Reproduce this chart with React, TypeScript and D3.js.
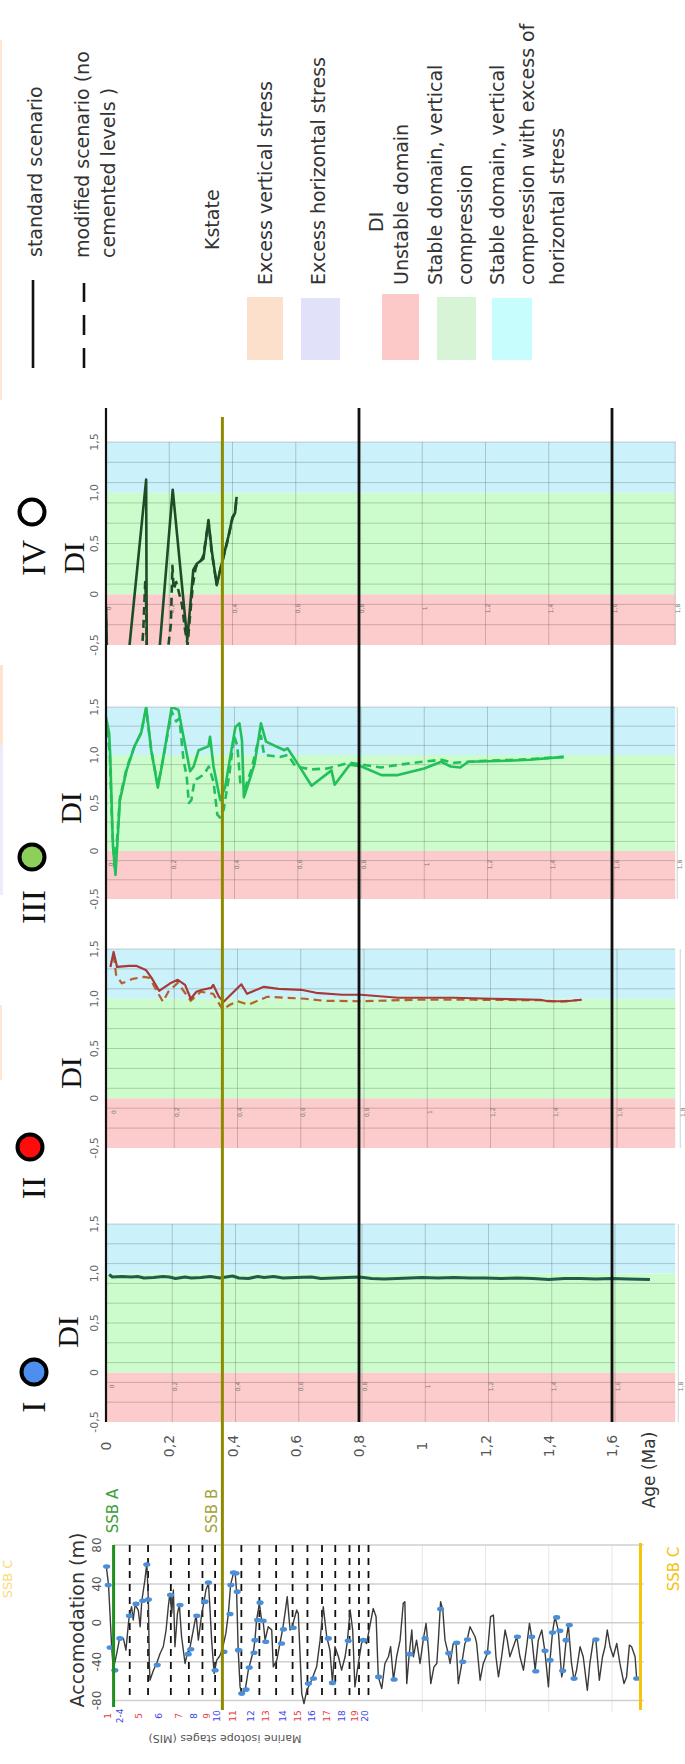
import React from 'react';
import * as d3 from 'd3';

// ---------- DATA ----------
const AGE_TICKS = [0, 0.2, 0.4, 0.6, 0.8, 1, 1.2, 1.4, 1.6];
const PANEL_GRID_AGES = [0.2, 0.4, 0.6, 0.8, 1, 1.2, 1.4, 1.6, 1.8];
const PANEL_TICK_AGES = [0, 0.2, 0.4, 0.6, 0.8, 1, 1.2, 1.4, 1.6, 1.8];
const MAJOR_AGES = [0, 0.8, 1.6];
const DI_TICKS = [-0.5, 0, 0.5, 1, 1.5];
const DI_TICK_LABELS = ['-0,5', '0', '0,5', '1,0', '1,5'];
const DI_GRID = [-0.3, -0.1, 0.1, 0.3, 0.5, 0.7, 0.9, 1.1, 1.3];
const DI_BANDS = [
  { lo: -0.5, hi: 0, color: '#fccbcb' },
  { lo: 0, hi: 1, color: '#ccfccc' },
  { lo: 1, hi: 1.5, color: '#cbf1fb' },
];

const SSB_A = 0.024;
const SSB_B = 0.368;
const SSB_C = 1.69;

// Panel IV
const P4_STD = [
  [0, -0.12], [0.004, -0.7], [0.068, -0.7], [0.127, 1.13], [0.129, -0.7], [0.165, -0.7],
  [0.211, 1.03], [0.257, -0.45], [0.276, 0.24], [0.287, 0.3], [0.308, 0.35], [0.324, 0.73],
  [0.334, 0.44], [0.35, 0.09], [0.366, 0.3], [0.387, 0.57], [0.4, 0.76], [0.408, 0.8], [0.413, 0.96],
];
const P4_MOD = [
  [0, -0.25], [0.003, -0.7], [0.11, -0.7], [0.118, -0.35], [0.124, 0.12], [0.127, -0.1], [0.13, -0.7],
  [0.19, -0.7], [0.205, -0.3], [0.21, 0.28], [0.214, 0.05], [0.222, 0.12], [0.232, 0.0], [0.24, -0.1],
  [0.25, -0.35], [0.258, -0.5], [0.266, -0.2], [0.275, 0.1], [0.283, 0.25], [0.29, 0.32], [0.3, 0.33],
  [0.308, 0.38], [0.324, 0.72], [0.334, 0.42], [0.35, 0.1], [0.366, 0.3], [0.387, 0.56], [0.4, 0.75],
  [0.408, 0.8], [0.413, 0.95],
];
// Panel III
const P3_STD = [
  [0, 1.25], [0.002, 1.36], [0.01, 1.23], [0.013, 1.02], [0.022, 0.05], [0.03, -0.25], [0.044, 0.53],
  [0.065, 0.84], [0.09, 1.09], [0.111, 1.23], [0.127, 1.5], [0.143, 1.05], [0.164, 0.66], [0.18, 0.95],
  [0.208, 1.5], [0.229, 1.47], [0.245, 1.19], [0.266, 0.83], [0.277, 0.88], [0.293, 1.05], [0.324, 1.09],
  [0.329, 1.19], [0.34, 0.88], [0.361, 0.53], [0.377, 0.67], [0.393, 0.98], [0.409, 1.29], [0.422, 1.33],
  [0.43, 1.15], [0.436, 0.56], [0.45, 0.7], [0.47, 0.91], [0.48, 1.12], [0.49, 1.33], [0.506, 1.14],
  [0.564, 1.05], [0.574, 1.07], [0.606, 0.91], [0.65, 0.68], [0.713, 0.84], [0.723, 0.69], [0.771, 0.9],
  [0.808, 0.88], [0.871, 0.79], [0.92, 0.79], [1.006, 0.86], [1.06, 0.93], [1.09, 0.88], [1.12, 0.87],
  [1.146, 0.93], [1.27, 0.94], [1.34, 0.95], [1.447, 0.98],
];
const P3_MOD = [
  [0, 1.4], [0.005, 1.25], [0.012, 1.0], [0.02, 0.2], [0.028, -0.2], [0.044, 0.55], [0.065, 0.86],
  [0.09, 1.09], [0.111, 1.23], [0.127, 1.48], [0.143, 1.05], [0.164, 0.68], [0.18, 0.95], [0.208, 1.45],
  [0.222, 1.35], [0.232, 1.38], [0.245, 0.95], [0.255, 0.78], [0.262, 0.5], [0.27, 0.53], [0.28, 0.74],
  [0.293, 0.76], [0.31, 0.8], [0.325, 0.88], [0.34, 0.72], [0.352, 0.38], [0.36, 0.35], [0.372, 0.43],
  [0.39, 0.8], [0.405, 1.2], [0.415, 1.1], [0.425, 0.7], [0.44, 0.66], [0.46, 0.85], [0.478, 1.1],
  [0.49, 1.2], [0.5, 1.0], [0.55, 0.98], [0.575, 1.0], [0.6, 0.88], [0.65, 0.85], [0.7, 0.86],
  [0.77, 0.92], [0.81, 0.9], [0.87, 0.87], [0.93, 0.9], [1.0, 0.93], [1.06, 0.95], [1.1, 0.92],
  [1.2, 0.94], [1.3, 0.95], [1.447, 0.98],
];
// Panel II
const P2_STD = [
  [0.014, 1.32], [0.024, 1.47], [0.035, 1.32], [0.073, 1.33], [0.097, 1.33], [0.126, 1.29], [0.144, 1.21],
  [0.168, 1.08], [0.203, 1.155], [0.227, 1.19], [0.25, 1.14], [0.268, 1.0], [0.286, 1.07], [0.304, 1.09],
  [0.333, 1.11], [0.339, 1.14], [0.357, 1.02], [0.372, 0.97], [0.404, 1.07], [0.428, 1.145], [0.446, 1.05],
  [0.499, 1.12], [0.546, 1.1], [0.617, 1.09], [0.664, 1.06], [0.747, 1.04], [0.806, 1.04], [0.924, 1.01],
  [1.1, 1.01], [1.22, 1.0], [1.374, 0.99], [1.397, 0.975], [1.456, 0.975], [1.504, 0.99],
];
const P2_MOD = [
  [0.024, 1.44], [0.032, 1.24], [0.05, 1.155], [0.085, 1.2], [0.12, 1.22], [0.138, 1.21], [0.162, 1.07],
  [0.18, 0.97], [0.197, 1.07], [0.227, 1.16], [0.268, 0.98], [0.3, 1.07], [0.339, 1.05], [0.369, 0.89],
  [0.392, 0.94], [0.416, 0.975], [0.45, 0.94], [0.51, 1.02], [0.63, 1.0], [0.688, 0.98], [0.806, 0.975],
  [0.983, 0.99], [1.16, 0.99], [1.374, 0.985], [1.433, 0.97], [1.504, 0.99],
];
// Panel I
const P1_STD = [
  [0.01, 0.99], [0.02, 0.965], [0.05, 0.97], [0.08, 0.965], [0.1, 0.97], [0.12, 0.955], [0.15, 0.96],
  [0.18, 0.97], [0.2, 0.965], [0.22, 0.95], [0.25, 0.965], [0.27, 0.955], [0.3, 0.96], [0.33, 0.97],
  [0.36, 0.955], [0.4, 0.975], [0.42, 0.955], [0.45, 0.95], [0.48, 0.97], [0.5, 0.96], [0.53, 0.97],
  [0.56, 0.955], [0.6, 0.96], [0.65, 0.965], [0.68, 0.95], [0.72, 0.955], [0.76, 0.96], [0.8, 0.965],
  [0.84, 0.95], [0.88, 0.945], [0.92, 0.95], [0.96, 0.955], [1.0, 0.96], [1.05, 0.955], [1.1, 0.96],
  [1.15, 0.955], [1.2, 0.955], [1.25, 0.95], [1.3, 0.955], [1.35, 0.95], [1.4, 0.94], [1.45, 0.95],
  [1.5, 0.95], [1.55, 0.945], [1.6, 0.95], [1.65, 0.945], [1.72, 0.94],
];

// Accommodation (m) vs age (Ma)
const ACC_TICKS = [80, 40, 0, -40, -80];
const ACCOM = [
  [0.001, 58], [0.008, 39], [0.018, -25], [0.023, -48], [0.034, -31.6], [0.042, -17.9], [0.055, -16.1],
  [0.063, -28.2], [0.071, -0.7], [0.074, 7.9], [0.081, 16.5], [0.086, 2.8], [0.092, 18.3], [0.102, 13.1],
  [0.108, -4.1], [0.113, 21.7], [0.123, 44], [0.129, 61.3], [0.134, 23.4], [0.137, -41.9], [0.139, -59.1],
  [0.15, -48.8], [0.16, -41.9], [0.171, -31.6], [0.181, -24.7], [0.19, -7.5], [0.197, 16.5], [0.202, 30.3],
  [0.208, 9.7], [0.213, 33.7], [0.218, -24.7], [0.226, 9.7], [0.232, 18.3], [0.239, -14.4], [0.25, -41.9],
  [0.257, -31.6], [0.266, -24.7], [0.276, -7.5], [0.285, 7.9], [0.292, -17.9], [0.303, 9.7], [0.31, 21.7],
  [0.316, 33.7], [0.324, 40.6], [0.329, 13.1], [0.334, -17.9], [0.342, -52.3], [0.35, -38.5], [0.358, -35],
  [0.366, -29.9], [0.379, -11], [0.387, 9.7], [0.394, 38.9], [0.403, 51], [0.408, 52.7], [0.413, 32],
  [0.418, -28.2], [0.424, -66], [0.429, -72.9], [0.44, -69.5], [0.45, -48.8], [0.461, -35], [0.466, -29.9],
  [0.471, -17.9], [0.476, 2.8], [0.485, 20], [0.492, 2.8], [0.497, 1.1], [0.503, -17.9], [0.513, -4.1],
  [0.524, -7.5], [0.529, -45.4], [0.54, -38.5], [0.55, -21.3], [0.559, -5.8], [0.566, 9.7], [0.573, 26.9],
  [0.582, -7.5], [0.587, -5.8], [0.603, 13.1], [0.608, 9.7], [0.619, -72.9], [0.626, -83.2], [0.635, -69.5],
  [0.65, -59.1], [0.666, -45.4], [0.677, -17.9], [0.687, 16.5], [0.698, -14.4], [0.708, -28.2], [0.716, -60.9],
  [0.724, -24.7], [0.735, -35], [0.745, -48.8], [0.756, -35], [0.763, -19.6], [0.772, 13.1], [0.78, -7.5],
  [0.787, -66], [0.798, -41.9], [0.808, -21.3], [0.814, -17.9], [0.824, -21.3], [0.845, 14.8], [0.854, 6.2],
  [0.861, -55.7], [0.872, -67.7], [0.882, -41.9], [0.893, -35], [0.9, -24.7], [0.909, -59.1], [0.919, -35],
  [0.93, -17.9], [0.94, 20], [0.945, 21.7], [0.951, -62.6], [0.959, -31.6], [0.967, -7.5], [0.972, -35],
  [0.982, -17.9], [0.993, -41.9], [1.003, -17.9], [1.012, -0.7], [1.019, -24.7], [1.027, -62.6], [1.037, -45.4],
  [1.046, -41.9], [1.051, -17.9], [1.058, 21.7], [1.065, 13.1], [1.072, -17.9], [1.082, -31.6], [1.088, -41.9],
  [1.098, -21.3], [1.107, -21.3], [1.114, -62.6], [1.125, -41.9], [1.135, -21.3], [1.143, -16.1], [1.151, -4.1],
  [1.167, -14.4], [1.172, -21.3], [1.183, -59.1], [1.193, -41.9], [1.206, -31.6], [1.216, 6.2], [1.225, 7.9],
  [1.233, -35], [1.241, -55.7], [1.251, -35], [1.262, -7.5], [1.269, -17.9], [1.277, -35], [1.288, -24.7],
  [1.299, -14.4], [1.309, -35], [1.32, -48.8], [1.33, -24.7], [1.339, -0.7], [1.346, -14.4], [1.357, -48.8],
  [1.367, -17.9], [1.378, -7.5], [1.388, -29.9], [1.399, -66], [1.404, -38.5], [1.412, -9.3], [1.42, 6.2],
  [1.43, -7.5], [1.441, -55.7], [1.446, -48.8], [1.455, -17.9], [1.462, -2.4], [1.472, -41.9], [1.48, -59.1],
  [1.488, -48.8], [1.499, -24.7], [1.509, -35], [1.522, -69.5], [1.53, -41.9], [1.541, -17.9], [1.549, -17.9],
  [1.56, -59.1], [1.57, -35], [1.578, -24.7], [1.585, -7.5], [1.594, -24.7], [1.604, -35], [1.615, -21.3],
  [1.625, -41.9], [1.638, -62.6], [1.646, -55.7], [1.655, -23], [1.662, -24.7], [1.673, -35], [1.678, -57.4],
];
const ACCOM_MARKERS = [
  [0.002, 57.8], [0.007, 38.9], [0.013, -25.4], [0.028, -48.8], [0.044, -16.1], [0.074, 7.2], [0.095, 19.4],
  [0.116, 22.7], [0.129, 60], [0.134, 24], [0.162, -43.6], [0.204, 28.6], [0.234, 18.3], [0.26, -32.3],
  [0.268, -27.2], [0.287, 7.2], [0.313, 21.7], [0.324, 41.3], [0.345, -48.8], [0.373, -29.9], [0.392, 9],
  [0.395, 38.9], [0.403, 51.6], [0.411, 51], [0.415, 32], [0.419, -28.2], [0.429, -72.9], [0.443, -68.8],
  [0.453, -46.1], [0.468, -30.9], [0.471, -17.9], [0.479, 2.8], [0.487, 20.7], [0.497, 2.1], [0.505, -19.6],
  [0.555, -21.3], [0.561, -6.8], [0.592, -5.1], [0.64, -62.6], [0.656, -57.4], [0.703, -16.1], [0.716, -61.9],
  [0.766, -18.6], [0.814, -17.9], [0.862, -55.7], [0.911, -58.4], [0.961, -32.3], [1.009, -16.1], [1.058, 14.1],
  [1.084, -31.3], [1.109, -20.6], [1.128, -40.2], [1.143, -17.2], [1.206, -30.6], [1.301, -14.4], [1.346, -14.4],
  [1.359, -49.9], [1.388, -28.9], [1.404, -38.5], [1.412, -10], [1.425, 5.5], [1.435, -8.2], [1.444, -49.5],
  [1.455, -17.9], [1.465, -2.4], [1.48, -57.4], [1.549, -17.2], [1.678, -57.4],
];

// Marine isotope stages
const MIS_BOUNDARIES = [0.075, 0.133, 0.205, 0.262, 0.305, 0.345, 0.428, 0.485, 0.538, 0.59, 0.637, 0.683, 0.725, 0.77, 0.8, 0.83];
const MIS_LABELS = ['1', '2-4', '5', '6', '7', '8', '9', '10', '11', '12', '13', '14', '15', '16', '17', '18', '19', '20'];
const MIS_LABEL_AGES = [0.006, 0.044, 0.104, 0.168, 0.231, 0.278, 0.319, 0.351, 0.402, 0.458, 0.506, 0.56, 0.607, 0.651, 0.699, 0.746, 0.787, 0.819];

// Legend
const LEGEND_KSTATE = ['Excess vertical stress', 'Excess horizontal stress'];
const LEGEND_DI = [['Unstable domain'], ['Stable domain, vertical', 'compression'], ['Stable domain, vertical', 'compression with excess of', 'horizontal stress']];

// ---------- LAYOUT ----------
const PANELS = [
  { numeral: 'IV', fill: '#ffffff', top: 442, bottom: 645, std: P4_STD, mod: P4_MOD, stdColor: '#1d4d26', modColor: '#1d4d26', width: 2.6, gridShift: 0, circleY: 512, numY: 558, diY: 558, circleX: 32, diX: 73 },
  { numeral: 'III', fill: '#8ccf5a', top: 707, bottom: 899, std: P3_STD, mod: P3_MOD, stdColor: '#22c05a', modColor: '#22c05a', width: 2.6, gridShift: 2, circleY: 857, numY: 907, diY: 808, circleX: 32, diX: 70 },
  { numeral: 'II', fill: '#ff0c0c', top: 949, bottom: 1148, std: P2_STD, mod: P2_MOD, stdColor: '#a63a36', modColor: '#b5612c', width: 2.2, gridShift: 5, circleY: 1147, numY: 1188, diY: 1073, circleX: 30, diX: 70 },
  { numeral: 'I', fill: '#4d8fef', top: 1224, bottom: 1422, std: P1_STD, mod: null, stdColor: '#1f5c4c', modColor: '#1f5c4c', width: 3, gridShift: 3, circleY: 1372, numY: 1407, diY: 1332, circleX: 34, diX: 67 },
];

const fmt = (v: number) => String(v).replace('.', ',');

function rot(x: number, y: number, deg = -90) {
  return `translate(${x},${y}) rotate(${deg})`;
}

function Panel({ p, x, idx }: any) {
  const y = d3.scaleLinear().domain([-0.5, 1.5]).range([p.bottom, p.top]);
  const line = d3.line<number[]>().x((d) => x(d[0])).y((d) => y(d[1]));
  const x0 = x(0);
  const x1 = x(1.8);
  const clipId = `clip-panel-${idx}`;
  return (
    <g>
      <defs>
        <clipPath id={clipId}>
          <rect x={x0} y={y(1.5)} width={x1 - x0} height={y(-0.5) - y(1.5)} />
        </clipPath>
      </defs>
      {DI_BANDS.map((b, i) => (
        <rect key={i} x={x0} y={y(b.hi)} width={x1 - x0} height={y(b.lo) - y(b.hi)} fill={b.color} />
      ))}
      {DI_GRID.map((v, i) => (
        <line key={'h' + i} x1={x0} x2={x1} y1={y(v)} y2={y(v)} stroke="#000" strokeOpacity={0.18} strokeWidth={1} />
      ))}
      <line x1={x0} x2={x1} y1={y(1.5)} y2={y(1.5)} stroke="#000" strokeOpacity={0.12} strokeWidth={1.5} />
      {PANEL_GRID_AGES.map((a, i) => (
        <line key={'v' + i} x1={x(a) + p.gridShift} x2={x(a) + p.gridShift} y1={y(1.5)} y2={y(-0.5)} stroke="#000" strokeOpacity={0.18} strokeWidth={1} />
      ))}
      {PANEL_TICK_AGES.map((a, i) => (
        <text key={'t' + i} transform={rot(x(a) + p.gridShift + 2, y(-0.14))} textAnchor="middle" dominantBaseline="central" fontSize={6} fill="#777">
          {fmt(a)}
        </text>
      ))}
      <g clipPath={`url(#${clipId})`}>
        {p.mod && (
          <path d={line(p.mod) || ''} fill="none" stroke={p.modColor} strokeWidth={p.width} strokeDasharray="8 5" strokeLinejoin="round" />
        )}
        <path d={line(p.std) || ''} fill="none" stroke={p.stdColor} strokeWidth={p.width} strokeLinejoin="round" />
      </g>
      {DI_TICKS.map((v, i) => (
        <text key={'d' + i} transform={rot(94, y(v))} textAnchor="middle" dominantBaseline="central" fontSize={11} fill="#666">
          {DI_TICK_LABELS[i]}
        </text>
      ))}
      <text transform={rot(p.diX, p.diY)} textAnchor="middle" dominantBaseline="central" fontSize={30} fontFamily="Liberation Serif" fill="#111">
        DI
      </text>
      <text transform={rot(33, p.numY)} textAnchor="middle" dominantBaseline="central" fontSize={34} fontFamily="Liberation Serif" fill="#111">
        {p.numeral}
      </text>
      <circle cx={p.circleX} cy={p.circleY} r={12.5} fill={p.fill} stroke="#000" strokeWidth={4} />
    </g>
  );
}

export default function App() {
  React.useEffect(() => {
    document.body.style.margin = '0';
  }, []);

  const x = d3.scaleLinear().domain([0, 1.6]).range([106, 612]);
  const yAcc = d3.scaleLinear().domain([-80, 80]).range([1700.5, 1545]);
  const accLine = d3.line<number[]>().x((d) => x(d[0])).y((d) => yAcc(d[1]));

  const legendBottom = 285;
  const lf = 19;

  return (
    <svg width={685} height={1764} style={{ position: 'absolute', left: 0, top: 0, background: '#fff', display: 'block' }} fontFamily="DejaVu Sans">
      <rect width={685} height={1764} fill="#fff" />
      {/* faint cropped strips at the left edge */}
      <rect x={0} y={40} width={2} height={360} fill="#fde8d8" />
      <rect x={0} y={665} width={3} height={80} fill="#fde3d0" />
      <rect x={0} y={745} width={3} height={150} fill="#ececfb" />
      <rect x={0} y={1005} width={2} height={75} fill="#fde8d8" />

      {/* legend */}
      <line x1={33} x2={33} y1={280} y2={368} stroke="#111" strokeWidth={2.6} />
      <line x1={84} x2={84} y1={368} y2={283} stroke="#111" strokeWidth={2.6} strokeDasharray="20 13" />
      <text transform={rot(35, 257)} dominantBaseline="central" fontSize={lf} fill="#333">standard scenario</text>
      <text transform={rot(82, 258)} dominantBaseline="central" fontSize={lf} fill="#333">modified scenario (no</text>
      <text transform={rot(108, 258)} dominantBaseline="central" fontSize={lf} fill="#333">cemented levels )</text>
      <text transform={rot(212, 250)} dominantBaseline="central" fontSize={lf} fill="#333">Kstate</text>
      {LEGEND_KSTATE.map((t, i) => (
        <text key={t} transform={rot(265 + i * 53, legendBottom)} dominantBaseline="central" fontSize={lf} fill="#333">{t}</text>
      ))}
      <rect x={247} y={297} width={36} height={63} fill="#fde0cc" />
      <rect x={301} y={298} width={39} height={62} fill="#e1e1fa" />
      <text transform={rot(376, 232)} dominantBaseline="central" fontSize={lf} fill="#333">DI</text>
      {LEGEND_DI.map((lines, gi) =>
        lines.map((t, li) => (
          <text key={gi + '-' + li} transform={rot([401, 435, 497][gi] + li * 30, legendBottom)} dominantBaseline="central" fontSize={lf} fill="#333">{t}</text>
        ))
      )}
      <rect x={382} y={294} width={37} height={66} fill="#fdc8c8" />
      <rect x={437} y={297} width={39} height={63} fill="#d7f4d7" />
      <rect x={492} y={298} width={40} height={62} fill="#c8fdfd" />

      {/* DI panels */}
      {PANELS.map((p, i) => (
        <Panel key={p.numeral} p={p} x={x} idx={i} />
      ))}

      {/* main age axis */}
      {AGE_TICKS.map((a) => (
        <text key={a} transform={rot(x(a), 1446)} textAnchor="middle" dominantBaseline="central" fontSize={14} fill="#555">
          {fmt(a)}
        </text>
      ))}
      <text transform={rot(649, 1470)} textAnchor="middle" dominantBaseline="central" fontSize={17} fill="#333">Age (Ma)</text>

      {/* accommodation chart */}
      {[1.0, 1.2, 1.4, 1.6].map((a) => (
        <line key={a} x1={x(a)} x2={x(a)} y1={yAcc(80)} y2={1712} stroke="#e6e6e6" strokeWidth={1} />
      ))}
      {ACC_TICKS.map((v) => (
        <g key={v}>
          <line x1={x(SSB_A)} x2={x(1.7)} y1={yAcc(v)} y2={yAcc(v)} stroke="#cfcfcf" strokeWidth={1.5} />
          <text transform={rot(97, yAcc(v))} textAnchor="middle" dominantBaseline="central" fontSize={12} fill="#555">{v}</text>
        </g>
      ))}
      {MIS_BOUNDARIES.map((a) => (
        <line key={a} x1={x(a)} x2={x(a)} y1={yAcc(80)} y2={yAcc(-80)} stroke="#111" strokeWidth={1.8} strokeDasharray="7 6" />
      ))}
      <path d={accLine(ACCOM) || ''} fill="none" stroke="#3a3a3a" strokeWidth={1.4} strokeLinejoin="round" />
      {ACCOM_MARKERS.map((d, i) => (
        <ellipse key={i} cx={x(d[0])} cy={yAcc(d[1])} rx={3.6} ry={2.3} fill="#4a8fd8" />
      ))}
      {MIS_LABELS.map((t, i) => (
        <text key={t} transform={rot(x(MIS_LABEL_AGES[i]), 1716)} textAnchor="middle" dominantBaseline="central" fontSize={9} fill={i % 2 === 0 ? '#e83a3a' : '#3a44e6'}>
          {t}
        </text>
      ))}
      <text transform={rot(225, 1738, 180)} textAnchor="middle" dominantBaseline="central" fontSize={11} fill="#555">Marine isotope stages (MIS)</text>
      <text transform={rot(77, 1620)} textAnchor="middle" dominantBaseline="central" fontSize={19} fill="#333">Accomodation (m)</text>

      {/* SSB lines */}
      <line x1={x(SSB_A)} x2={x(SSB_A)} y1={yAcc(80)} y2={1707} stroke="#1e8f1e" strokeWidth={3} />
      <line x1={x(SSB_C)} x2={x(SSB_C)} y1={1543} y2={1710} stroke="#f7c20a" strokeWidth={3} />
      <text transform={rot(113, 1511)} textAnchor="middle" dominantBaseline="central" fontSize={15} fill="#3aa03a">SSB A</text>
      <text transform={rot(212, 1511)} textAnchor="middle" dominantBaseline="central" fontSize={15} fill="#a3a33a">SSB B</text>
      <text transform={rot(674, 1569)} textAnchor="middle" dominantBaseline="central" fontSize={15} fill="#f7c20a">SSB C</text>
      <text transform={rot(7, 1579)} textAnchor="middle" dominantBaseline="central" fontSize={13} fill="#f9dc78">SSB C</text>

      {/* major vertical lines */}
      {MAJOR_AGES.map((a) => (
        <line key={a} x1={x(a)} x2={x(a)} y1={408} y2={1422} stroke="#111" strokeWidth={a === 0 ? 2.2 : 2.8} />
      ))}
      <line x1={x(SSB_B)} x2={x(SSB_B)} y1={417} y2={1710} stroke="#8d8a00" strokeWidth={3} />
    </svg>
  );
}
